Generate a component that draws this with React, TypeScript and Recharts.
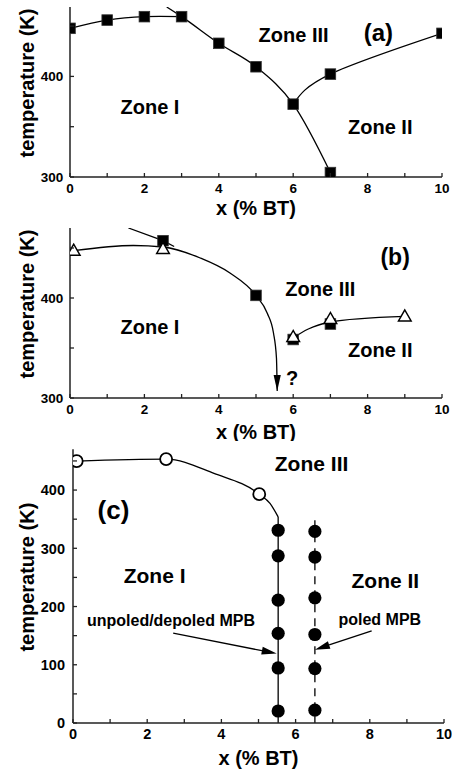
import React from 'react';
import { ComposedChart, Line, Scatter, XAxis, YAxis, ReferenceDot, ReferenceLine } from 'recharts';

type Pt = { x: number; y: number };
type Txt = { x: number; y: number; text: string; size: number };

// ---------- shared ticks ----------
const xTicks = [0, 1, 2, 3, 4, 5, 6, 7, 8, 9, 10];
const xTickLabels = [0, 2, 4, 6, 8, 10];
const abYTicks = [300, 350, 400, 450];
const abYTickLabels = [300, 400];
const cYTicks = [0, 50, 100, 150, 200, 250, 300, 350, 400, 450];
const cYTickLabels = [0, 100, 200, 300, 400];

// ---------- panel (a) ----------
const aSquares: Pt[] = [
  { x: 0, y: 447.8 }, { x: 1, y: 456 }, { x: 2, y: 459.4 }, { x: 3, y: 459.4 },
  { x: 4, y: 432.9 }, { x: 5, y: 409.6 }, { x: 6, y: 372.4 }, { x: 7, y: 402.3 },
  { x: 7, y: 304.4 }, { x: 10, y: 442.8 },
];
const aCurveLeft: Pt[] = [{ x: 0, y: 447.8 }, { x: 1, y: 456 }, { x: 2, y: 459.4 }, { x: 3, y: 459.4 }];
const aCurveMid: Pt[] = [
  { x: 2.6, y: 469 }, { x: 3, y: 459.4 }, { x: 4, y: 432.9 }, { x: 5, y: 409.6 },
  { x: 6, y: 372.4 }, { x: 7, y: 304.4 },
];
const aCurveRight: Pt[] = [{ x: 6, y: 372.4 }, { x: 7, y: 402.3 }, { x: 10, y: 442.8 }];
const aTexts: Txt[] = [
  { x: 6.01, y: 441, text: 'Zone III', size: 20 },
  { x: 8.29, y: 444, text: '(a)', size: 24 },
  { x: 2.15, y: 369.4, text: 'Zone I', size: 20 },
  { x: 8.34, y: 349.5, text: 'Zone II', size: 20 },
];

// ---------- panel (b) ----------
const bSquares: Pt[] = [{ x: 2.5, y: 457.3 }, { x: 5, y: 402.6 }, { x: 6, y: 358.5 }, { x: 7, y: 374 }];
const bTriangles: Pt[] = [{ x: 0.1, y: 447.3 }, { x: 2.5, y: 449 }, { x: 6, y: 361 }, { x: 7, y: 379 }, { x: 9, y: 381.6 }];
const bCurveSteep: Pt[] = [{ x: 1.57, y: 470 }, { x: 2.5, y: 457.3 }, { x: 2.8, y: 451.5 }];
const bCurveMain: Pt[] = [
  { x: 0.1, y: 447.3 }, { x: 1.7, y: 452.5 }, { x: 2.5, y: 451 }, { x: 3.5, y: 440 },
  { x: 4.3, y: 425 }, { x: 5, y: 402.6 }, { x: 5.3, y: 385 }, { x: 5.47, y: 365 },
  { x: 5.55, y: 340 }, { x: 5.57, y: 307 },
];
const bCurveRight: Pt[] = [{ x: 6, y: 360 }, { x: 7, y: 376 }, { x: 9, y: 381.6 }];
const bTexts: Txt[] = [
  { x: 8.74, y: 441.6, text: '(b)', size: 23 },
  { x: 6.73, y: 409.3, text: 'Zone III', size: 20 },
  { x: 2.15, y: 371.6, text: 'Zone I', size: 20 },
  { x: 8.34, y: 348.3, text: 'Zone II', size: 20 },
  { x: 5.97, y: 320, text: '?', size: 20 },
];

// ---------- panel (c) ----------
const cOpenCircles: Pt[] = [{ x: 0.1, y: 449.8 }, { x: 2.51, y: 453.2 }, { x: 5.02, y: 393 }];
const cCurve: Pt[] = [
  { x: 0.1, y: 449.8 }, { x: 2.51, y: 453.2 }, { x: 3.8, y: 428.6 }, { x: 5.02, y: 393 },
  { x: 5.31, y: 377 }, { x: 5.53, y: 354 },
];
const cUnpoledLine: Pt[] = [{ x: 5.53, y: 354 }, { x: 5.53, y: 0 }];
const cPoledLine: Pt[] = [{ x: 6.52, y: 348 }, { x: 6.52, y: 0 }];
const cUnpoledDots: Pt[] = [
  { x: 5.53, y: 331 }, { x: 5.53, y: 287 }, { x: 5.53, y: 211 },
  { x: 5.53, y: 154 }, { x: 5.53, y: 94.5 }, { x: 5.53, y: 20.6 },
];
const cPoledDots: Pt[] = [
  { x: 6.52, y: 329 }, { x: 6.52, y: 285 }, { x: 6.52, y: 215 },
  { x: 6.52, y: 152 }, { x: 6.52, y: 93.5 }, { x: 6.52, y: 22 },
];
const cArrows: [Pt, Pt][] = [
  [{ x: 2.7, y: 154.2 }, { x: 5.49, y: 119.3 }],
  [{ x: 8.05, y: 158 }, { x: 6.52, y: 126 }],
];
const cTexts: Txt[] = [
  { x: 6.43, y: 446, text: 'Zone III', size: 21 },
  { x: 1.09, y: 365.6, text: '(c)', size: 26 },
  { x: 2.2, y: 254, text: 'Zone I', size: 21 },
  { x: 8.42, y: 245, text: 'Zone II', size: 21 },
  { x: 2.64, y: 176.5, text: 'unpoled/depoled MPB', size: 16 },
  { x: 8.27, y: 177.7, text: 'poled MPB', size: 16 },
];

// ---------- rendering helpers ----------
const FONT = '"Liberation Sans", Arial, Helvetica, sans-serif';
const AXIS = '#222';
const TICK_LEN = 4;

function makeTick(side: 'bottom' | 'top' | 'left' | 'right', labels: number[], fs: number, gap: number) {
  return (props: any) => {
    const { x, y, payload } = props;
    const v = payload.value;
    const show = labels.includes(v);
    let line: any;
    let label: any = null;
    if (side === 'bottom') {
      line = <line x1={x} x2={x} y1={y} y2={y - TICK_LEN} stroke={AXIS} strokeWidth={1.3} />;
      if (show)
        label = (
          <text x={x} y={y + gap + 0.72 * fs} textAnchor="middle" fontSize={fs} fontWeight="bold" fill="#000">
            {v}
          </text>
        );
    } else if (side === 'top') {
      line = <line x1={x} x2={x} y1={y} y2={y + TICK_LEN} stroke={AXIS} strokeWidth={1.3} />;
    } else if (side === 'left') {
      line = <line x1={x} x2={x + TICK_LEN} y1={y} y2={y} stroke={AXIS} strokeWidth={1.3} />;
      if (show)
        label = (
          <text x={x - gap} y={y + 0.36 * fs} textAnchor="end" fontSize={fs} fontWeight="bold" fill="#000">
            {v}
          </text>
        );
    } else {
      line = <line x1={x} x2={x - TICK_LEN} y1={y} y2={y} stroke={AXIS} strokeWidth={1.3} />;
    }
    return (
      <g>
        {line}
        {label}
      </g>
    );
  };
}

const xTitle = (dy: number) => (props: any) => {
  const vb = props.viewBox || { x: 0, y: 0, width: 0, height: 0 };
  return (
    <text x={vb.x + vb.width / 2} y={vb.y + dy} textAnchor="middle" dominantBaseline="central" fontSize={20} fontWeight="bold" fill="#000">
      x (% BT)
    </text>
  );
};

const yTitle = (cx: number, shift: number) => (props: any) => {
  const vb = props.viewBox || { x: 0, y: 0, width: 0, height: 0 };
  const cy = vb.y + vb.height / 2 + shift;
  return (
    <text x={cx} y={cy} transform={`rotate(-90 ${cx} ${cy})`} textAnchor="middle" dominantBaseline="central" fontSize={20} fontWeight="bold" fill="#000">
      temperature (K)
    </text>
  );
};

function axes(
  yDomain: [number, number],
  yTicks: number[],
  yLabels: number[],
  fs: number,
  leftW: number,
  bottomH: number,
  xGap: number,
  yGap: number,
  xTitleDy: number,
) {
  const line = { stroke: AXIS, strokeWidth: 1.5 };
  return [
    <XAxis key="xb" xAxisId={0} type="number" dataKey="x" domain={[0, 10]} ticks={xTicks} interval={0}
      allowDataOverflow height={bottomH} axisLine={line} tickLine={false} tickSize={0} tickMargin={0}
      tick={makeTick('bottom', xTickLabels, fs, xGap)} label={xTitle(xTitleDy)} />,
    <XAxis key="xt" xAxisId="top" orientation="top" type="number" domain={[0, 10]} ticks={xTicks} interval={0}
      allowDataOverflow height={0} axisLine={line} tickLine={false} tickSize={0} tickMargin={0}
      tick={makeTick('top', [], fs, 0)} />,
    <YAxis key="yl" yAxisId={0} type="number" domain={yDomain} ticks={yTicks} interval={0}
      allowDataOverflow width={leftW} axisLine={line} tickLine={false} tickSize={0} tickMargin={0}
      tick={makeTick('left', yLabels, fs, yGap)} label={yTitle(27, -9)} />,
    <YAxis key="yr" yAxisId="right" orientation="right" type="number" domain={yDomain} ticks={yTicks} interval={0}
      allowDataOverflow width={0} axisLine={line} tickLine={false} tickSize={0} tickMargin={0}
      tick={makeTick('right', [], fs, 0)} />,
  ];
}

function texts(list: Txt[]) {
  return list.map((t, i) => (
    <ReferenceDot key={'t' + i} x={t.x} y={t.y} r={0} fill="none" stroke="none"
      label={{ value: t.text, position: 'center', fontSize: t.size, fontWeight: 'bold', fill: '#000' }} />
  ));
}

const squareShape = (p: any) => <rect x={p.cx - 5.3} y={p.cy - 5.3} width={10.6} height={10.6} fill="#000" stroke="#333" strokeWidth={0.8} />;
const triangleShape = (p: any) => (
  <polygon points={`${p.cx},${p.cy - 6.5} ${p.cx - 6.3},${p.cy + 4.5} ${p.cx + 6.3},${p.cy + 4.5}`} fill="#fff" stroke="#000" strokeWidth={1.5} />
);
const filledCircle = (p: any) => <circle cx={p.cx} cy={p.cy} r={6.6} fill="#000" />;
const openCircle = (p: any) => <circle cx={p.cx} cy={p.cy} r={6} fill="#fff" stroke="#000" strokeWidth={1.8} />;

const arrowDown = (n: number) => (p: any) =>
  p.index === n - 1 ? (
    <polygon key="ah" points={`${p.cx},${p.cy} ${p.cx - 3.6},${p.cy - 16} ${p.cx + 3.6},${p.cy - 16}`} fill="#000" />
  ) : (
    <g key={'d' + p.index} />
  );

const arrowShape = (p: any) => {
  const { x1, y1, x2, y2 } = p;
  const ang = Math.atan2(y2 - y1, x2 - x1);
  const L = 15;
  const W = 4;
  const bx = x2 - L * Math.cos(ang);
  const by = y2 - L * Math.sin(ang);
  const px = -Math.sin(ang) * W;
  const py = Math.cos(ang) * W;
  return (
    <g>
      <line x1={x1} y1={y1} x2={bx} y2={by} stroke="#000" strokeWidth={1.3} />
      <polygon points={`${x2},${y2} ${bx + px},${by + py} ${bx - px},${by - py}`} fill="#000" />
    </g>
  );
};

const curve = (data: Pt[], key: string, type: any = 'monotone', extra: any = {}) => (
  <Line key={key} data={data} dataKey="y" type={type} dot={false} activeDot={false} stroke="#000" strokeWidth={1.3}
    isAnimationActive={false} legendType="none" {...extra} />
);

export default function App() {
  return (
    <div style={{ position: 'absolute', left: 0, top: 0, width: 452, height: 773, background: '#fff', fontFamily: FONT }}>
      <div style={{ position: 'absolute', left: 0, top: 0 }}>
        <ComposedChart width={452} height={220} margin={{ top: 7, right: 10, bottom: 0, left: 0 }}>
          {axes([300, 469], abYTicks, abYTickLabels, 13.5, 70, 43, 6.3, 6.7, 31)}
          {curve(aCurveLeft, 'a1', 'natural')}
          {curve(aCurveMid, 'a2')}
          {curve(aCurveRight, 'a3', 'natural')}
          <Scatter data={aSquares} dataKey="y" shape={squareShape} isAnimationActive={false} />
          {texts(aTexts)}
        </ComposedChart>
      </div>
      <div style={{ position: 'absolute', left: 0, top: 221 }}>
        <ComposedChart width={452} height={220} margin={{ top: 7, right: 10, bottom: 0, left: 0 }}>
          {axes([300, 470], abYTicks, abYTickLabels, 13.5, 70, 43, 6.3, 6.7, 33.5)}
          {curve(bCurveSteep, 'b1', 'linear')}
          {curve(bCurveMain, 'b2', 'monotone', { dot: arrowDown(bCurveMain.length) })}
          {curve(bCurveRight, 'b3', 'natural')}
          <Scatter data={bSquares} dataKey="y" shape={squareShape} isAnimationActive={false} />
          <Scatter data={bTriangles} dataKey="y" shape={triangleShape} isAnimationActive={false} />
          {texts(bTexts)}
        </ComposedChart>
      </div>
      <div style={{ position: 'absolute', left: 0, top: 442 }}>
        <ComposedChart width={452} height={331} margin={{ top: 7.3, right: 8, bottom: 0, left: 0 }}>
          {axes([0, 470], cYTicks, cYTickLabels, 14.5, 73, 50, 5.6, 8, 35)}
          {curve(cCurve, 'c1')}
          {curve(cUnpoledLine, 'c2', 'linear')}
          {curve(cPoledLine, 'c3', 'linear', { strokeDasharray: '8 6' })}
          <Scatter data={cOpenCircles} dataKey="y" shape={openCircle} isAnimationActive={false} />
          <Scatter data={cUnpoledDots} dataKey="y" shape={filledCircle} isAnimationActive={false} />
          <Scatter data={cPoledDots} dataKey="y" shape={filledCircle} isAnimationActive={false} />
          {cArrows.map((seg, i) => (
            <ReferenceLine key={'ar' + i} segment={seg} shape={arrowShape} />
          ))}
          {texts(cTexts)}
        </ComposedChart>
      </div>
    </div>
  );
}
